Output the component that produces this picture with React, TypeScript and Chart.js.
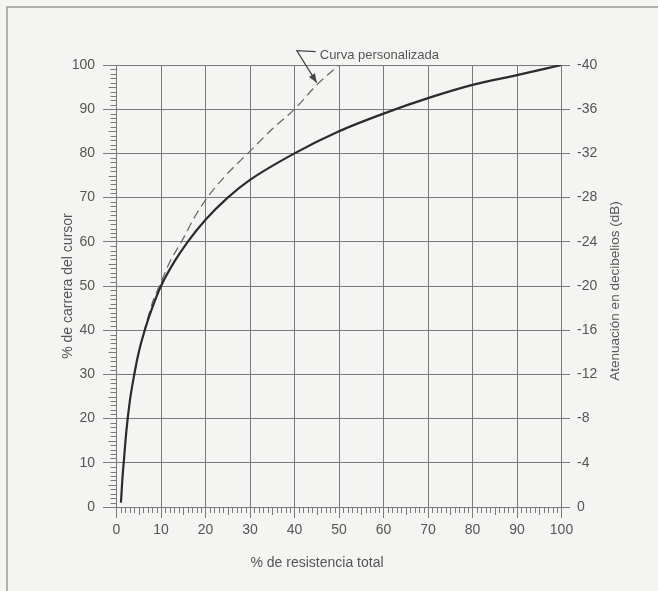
import React, { useEffect, useRef } from "react";
import { Chart, registerables } from "chart.js";

Chart.register(...registerables);

// ---- data ----
const xTicks = [0, 10, 20, 30, 40, 50, 60, 70, 80, 90, 100];
const yTicks = [0, 10, 20, 30, 40, 50, 60, 70, 80, 90, 100];
const dbTicks = [0, -4, -8, -12, -16, -20, -24, -28, -32, -36, -40];

const solidX = [1, 1.3, 1.7, 2.2, 3, 4, 5, 6.5, 8, 10, 13, 16, 20, 25, 30, 40, 50, 60, 70, 80, 90, 100];
const solidY = [1, 6, 11, 17, 24, 30, 35, 40.5, 45, 50, 55.5, 60, 65, 70, 74, 80, 85, 89, 92.5, 95.5, 97.7, 100];

const customX = [4, 5, 6.5, 8, 10, 12, 14.6, 17.5, 20.4, 25, 29.5, 35, 40, 45, 50];
const customY = [30, 35, 40.8, 46, 50.8, 55.5, 60, 65.5, 70, 75.5, 80, 85.5, 90, 95.5, 100];

const xTitle = "% de resistencia total";
const yTitle = "% de carrera del cursor";
const y2Title = "Atenuación en decibelios (dB)";
const annotationText = "Curva personalizada";
const annotationTarget = { x: 45, y: 96 };

const FONT = "'Liberation Sans', Arial, sans-serif";
const TEXT = "#555555";
const GRID = "#7a7a7a";
const BG = "#f4f4f2";

const toPoints = (xs: number[], ys: number[]) => xs.map((x, i) => ({ x, y: ys[i] }));

const decorPlugin = {
  id: "decor",
  beforeDraw(chart: any) {
    const { ctx, width, height } = chart;
    ctx.save();
    ctx.fillStyle = BG;
    ctx.fillRect(0, 0, width, height);
    ctx.strokeStyle = "#9a9a9a";
    ctx.lineWidth = 1.5;
    ctx.beginPath();
    ctx.moveTo(7, height);
    ctx.lineTo(7, 7);
    ctx.lineTo(width, 7);
    ctx.stroke();
    ctx.restore();
  },
  afterDraw(chart: any) {
    const { ctx, chartArea } = chart;
    const xs = chart.scales.x;
    const ys = chart.scales.y;
    ctx.save();
    // minor ticks
    ctx.strokeStyle = GRID;
    ctx.lineWidth = 1;
    ctx.beginPath();
    for (let v = 0; v <= 100; v++) {
      if (v % 10 === 0) continue;
      const len = v % 5 === 0 ? 8 : 6;
      const px = Math.round(xs.getPixelForValue(v)) + 0.5;
      ctx.moveTo(px, chartArea.bottom);
      ctx.lineTo(px, chartArea.bottom + len);
      const py = Math.round(ys.getPixelForValue(v)) + 0.5;
      ctx.moveTo(chartArea.left - len, py);
      ctx.lineTo(chartArea.left, py);
    }
    ctx.stroke();

    // axis titles
    ctx.fillStyle = TEXT;
    ctx.font = `14px ${FONT}`;
    ctx.textAlign = "center";
    ctx.textBaseline = "middle";
    const cx = (chartArea.left + chartArea.right) / 2;
    const cy = (chartArea.top + chartArea.bottom) / 2;
    ctx.fillText(xTitle, cx - 22, chartArea.bottom + 56);

    ctx.save();
    ctx.translate(chartArea.left - 48, cy);
    ctx.rotate(-Math.PI / 2);
    ctx.fillText(yTitle, 0, 0);
    ctx.restore();

    ctx.save();
    ctx.font = `13.5px ${FONT}`;
    ctx.translate(chartArea.right + 54, cy + 5);
    ctx.rotate(-Math.PI / 2);
    ctx.fillText(y2Title, 0, 0);
    ctx.restore();

    // annotation
    const tx = xs.getPixelForValue(annotationTarget.x);
    const ty = ys.getPixelForValue(annotationTarget.y);
    const ex = tx - 20;
    const ey = ty - 32;
    ctx.strokeStyle = "#444";
    ctx.lineWidth = 1.2;
    ctx.beginPath();
    ctx.moveTo(ex + 19, ey + 1);
    ctx.lineTo(ex, ey);
    ctx.lineTo(tx, ty);
    ctx.stroke();
    const ang = Math.atan2(ty - ey, tx - ex);
    ctx.fillStyle = "#444";
    ctx.beginPath();
    ctx.moveTo(tx, ty);
    ctx.lineTo(tx - 9 * Math.cos(ang) + 3.5 * Math.sin(ang), ty - 9 * Math.sin(ang) - 3.5 * Math.cos(ang));
    ctx.lineTo(tx - 9 * Math.cos(ang) - 3.5 * Math.sin(ang), ty - 9 * Math.sin(ang) + 3.5 * Math.cos(ang));
    ctx.closePath();
    ctx.fill();

    ctx.fillStyle = TEXT;
    ctx.font = `13px ${FONT}`;
    ctx.textAlign = "left";
    ctx.textBaseline = "middle";
    ctx.fillText(annotationText, ex + 23, ey + 5);
    ctx.restore();
  },
};

export default function App() {
  const ref = useRef<HTMLCanvasElement | null>(null);

  useEffect(() => {
    if (!ref.current) return;
    const tickFont = { family: FONT, size: 14 };
    const chart = new Chart(ref.current, {
      type: "line",
      data: {
        datasets: [
          {
            label: "Curva",
            data: toPoints(solidX, solidY),
            borderColor: "#2b2b2b",
            borderWidth: 2.2,
            pointRadius: 0,
            cubicInterpolationMode: "monotone",
            fill: false,
          },
          {
            label: annotationText,
            data: toPoints(customX, customY),
            borderColor: "#6a6a6a",
            borderWidth: 1.3,
            borderDash: [9, 5],
            pointRadius: 0,
            cubicInterpolationMode: "monotone",
            fill: false,
          },
        ],
      },
      plugins: [decorPlugin],
      options: {
        responsive: false,
        animation: false,
        events: [],
        layout: { padding: { left: 0, top: 65, right: 0, bottom: 0 } },
        plugins: { legend: { display: false }, tooltip: { enabled: false } },
        scales: {
          x: {
            type: "linear",
            min: 0,
            max: 100,
            afterFit: (s: any) => {
              s.height = 84;
            },
            afterBuildTicks: (s: any) => {
              s.ticks = xTicks.map((v) => ({ value: v }));
            },
            grid: { color: GRID, lineWidth: 1, tickLength: 11 },
            border: { color: GRID, width: 1 },
            ticks: { color: TEXT, font: tickFont, padding: 4, maxRotation: 0 },
          },
          y: {
            type: "linear",
            position: "left",
            min: 0,
            max: 100,
            afterFit: (s: any) => {
              s.width = 116.5;
            },
            afterBuildTicks: (s: any) => {
              s.ticks = yTicks.map((v) => ({ value: v }));
            },
            grid: { color: GRID, lineWidth: 1, tickLength: 13.5 },
            border: { color: GRID, width: 1 },
            ticks: { color: TEXT, font: tickFont, padding: 8 },
          },
          y2: {
            type: "linear",
            position: "right",
            min: -40,
            max: 0,
            reverse: true,
            afterFit: (s: any) => {
              s.width = 96.5;
            },
            afterBuildTicks: (s: any) => {
              s.ticks = dbTicks.map((v) => ({ value: v }));
            },
            grid: { color: GRID, lineWidth: 1, tickLength: 8.5, drawOnChartArea: false },
            border: { color: GRID, width: 1 },
            ticks: { color: TEXT, font: tickFont, padding: 7 },
          },
        },
      },
    } as any);
    return () => chart.destroy();
  }, []);

  return (
    <div style={{ position: "fixed", left: 0, top: 0, width: 658, height: 591, background: BG }}>
      <canvas ref={ref} width={658} height={591} style={{ display: "block" }} />
    </div>
  );
}
